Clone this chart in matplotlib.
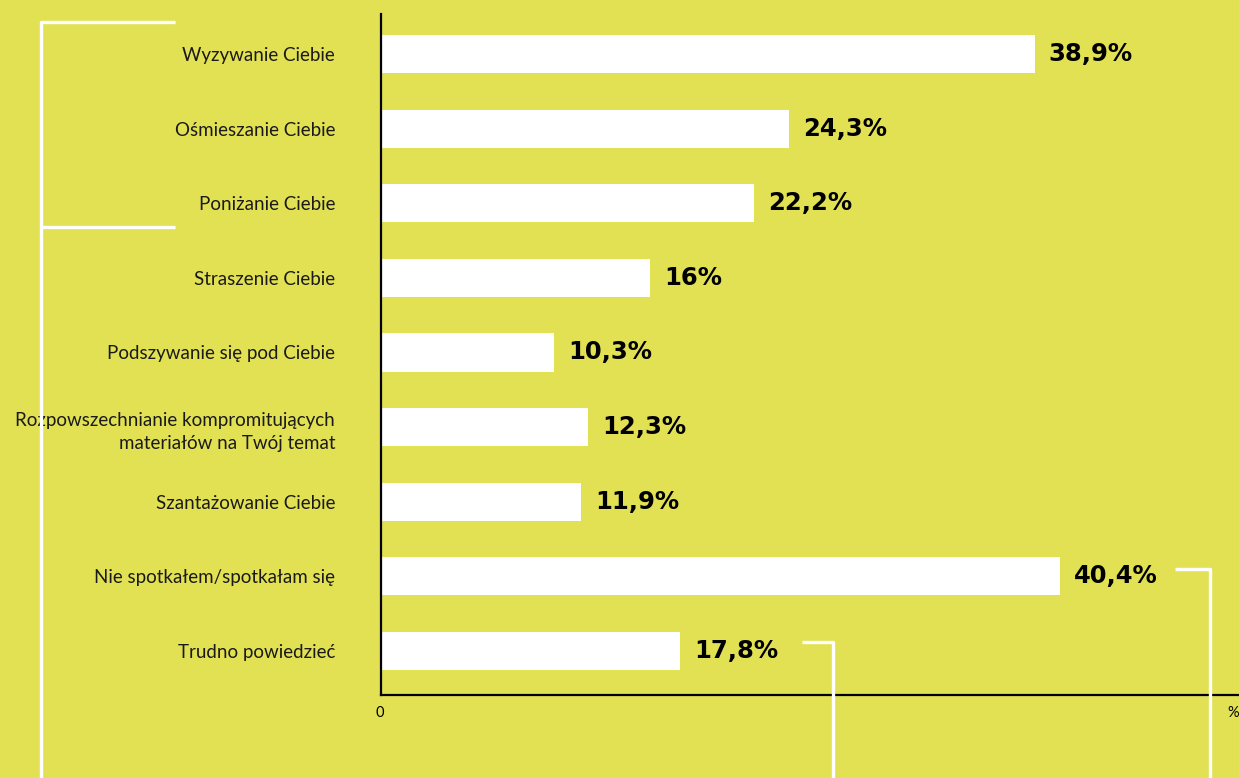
import matplotlib.pyplot as plt
from matplotlib.lines import Line2D

categories = [
    "Wyzywanie Ciebie",
    "Ośmieszanie Ciebie",
    "Poniżanie Ciebie",
    "Straszenie Ciebie",
    "Podszywanie się pod Ciebie",
    "Rozpowszechnianie kompromitujących\nmateriałów na Twój temat",
    "Szantażowanie Ciebie",
    "Nie spotkałem/spotkałam się",
    "Trudno powiedzieć",
]
values = [38.9, 24.3, 22.2, 16.0, 10.3, 12.3, 11.9, 40.4, 17.8]
value_labels = ["38,9%", "24,3%", "22,2%", "16%", "10,3%", "12,3%", "11,9%", "40,4%", "17,8%"]

bg = "#E2E154"
W, H = 1239, 778

fig = plt.figure(figsize=(12.39, 7.78), dpi=100, facecolor=bg)
ax = fig.add_axes([381 / W, 83 / H, (W - 381) / W, (695 - 14) / H])
ax.set_facecolor(bg)

y = list(range(len(categories)))
ax.barh(y, values, height=0.51, color="white", zorder=2)
ax.set_xlim(0, 51.07)
ax.set_ylim(8.59, -0.536)

for yi, v, lab in zip(y, values, value_labels):
    ax.text(v + 0.85, yi, lab, va="center", ha="left", fontsize=17.5,
            fontweight="bold", family="DejaVu Sans", color="black")

ax.set_yticks(y)
ax.set_yticklabels(categories, fontsize=13.5, family="Lato", color="#1a1a1a",
                   ha="right", multialignment="right", linespacing=1.45)
ax.tick_params(axis="y", length=0, pad=33)
ax.set_xticks([])

for s in ["top", "right"]:
    ax.spines[s].set_visible(False)
for s in ["left", "bottom"]:
    ax.spines[s].set_linewidth(1.6)
    ax.spines[s].set_color("black")

fig.text(380 / W, 1 - 713 / H, "0", ha="center", va="center", fontsize=10.5, family="Lato")
fig.text(1233 / W, 1 - 713 / H, "%", ha="center", va="center", fontsize=10.5, family="Lato")

# decorative white brackets
def seg(xs, ys):
    fig.add_artist(Line2D([x / W for x in xs], [1 - v / H for v in ys],
                          color="white", lw=2.4, transform=fig.transFigure,
                          solid_capstyle="butt", zorder=5))

seg([175, 41, 41, 175], [22, 22, 227, 227])
seg([41, 41], [227, 778])
seg([1175, 1210, 1210], [569, 569, 778])
seg([802, 833, 833], [642, 642, 778])

fig.savefig("out.png", dpi=100, facecolor=bg)
